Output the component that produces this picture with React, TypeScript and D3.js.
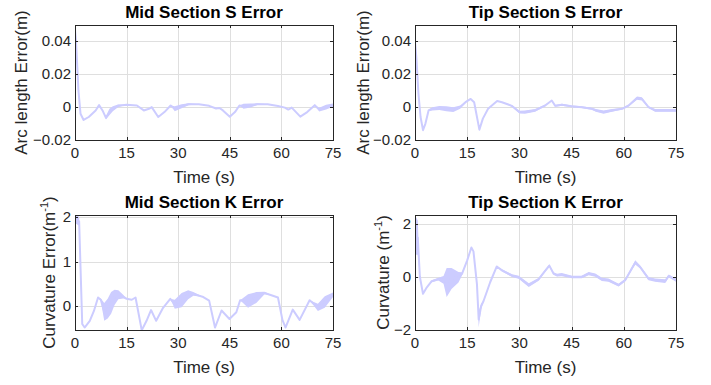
import * as d3 from 'd3';

// ---- data (time in s, value, half-width of noisy band) ----
const timeTicks = [0, 15, 30, 45, 60, 75];

const midS_t = [0, 0.3, 1, 1.6, 2.5, 4, 5, 6, 7, 8, 9, 10, 11, 12.5, 15, 18, 20, 21.5, 22.3, 24.2, 26, 27.8, 29, 31, 33, 36, 39, 41, 42, 43, 45, 46.5, 47.8, 49, 51, 53, 56, 59, 61, 62, 63, 65.5, 67.5, 69.7, 71, 73, 75];
const midS_v = [0.047, 0.04, 0.01, -0.004, -0.0078, -0.006, -0.004, -0.002, 0.0012, -0.002, -0.0065, -0.003, -0.001, 0.0008, 0.0015, 0.001, -0.002, -0.001, 0, -0.006, -0.003, 0.001, -0.001, 0.0005, 0.0018, 0.0018, 0.0008, -0.0008, -0.0005, -0.002, -0.0058, -0.003, 0.001, 0.0005, 0.001, 0.0018, 0.0018, 0.0007, -0.0003, -0.0015, -0.0003, -0.0058, -0.003, 0.0012, -0.0015, 0, 0.0012];
const midS_w = [0, 0, 0, 0, 0, 0, 0, 0, 0, 0, 0.001, 0.002, 0.0015, 0.0008, 0, 0, 0, 0, 0, 0, 0, 0, 0.0015, 0.0012, 0.0006, 0, 0, 0, 0, 0, 0, 0, 0, 0.0015, 0.0012, 0.0005, 0, 0, 0, 0, 0, 0, 0, 0, 0.0012, 0.0015, 0.001];

const tipS_t = [0, 0.4, 1, 1.6, 2.3, 3, 3.9, 5, 7, 9, 11, 13, 14.5, 16, 17, 18.5, 19.5, 21, 23.6, 25, 27.8, 30, 31.6, 34.5, 37.4, 39.3, 40.3, 42.2, 45, 47.9, 50.8, 52, 54.2, 56.6, 59.5, 61.4, 63.8, 65.2, 67.1, 69, 71.9, 75];
const tipS_v = [0.04, 0.03, 0.008, -0.006, -0.014, -0.01, -0.002, -0.001, -0.0005, -0.001, -0.0015, 0, 0.003, 0.005, 0.003, -0.0137, -0.007, -0.001, 0.0037, 0.003, 0.0008, -0.003, -0.003, -0.002, 0.001, 0.004, 0.0008, 0.0015, 0.0005, 0, -0.001, -0.002, -0.003, -0.002, -0.001, 0.001, 0.0055, 0.005, 0, -0.002, -0.002, -0.002];
const tipS_w = [0, 0, 0, 0, 0, 0, 0.0005, 0.001, 0.0012, 0.0015, 0.0015, 0.001, 0.0005, 0, 0, 0, 0, 0, 0, 0, 0.0005, 0.0008, 0.001, 0.0008, 0.0005, 0, 0.0005, 0.0006, 0.0005, 0.0005, 0.0006, 0.0008, 0.001, 0.0008, 0.0005, 0.0005, 0.001, 0.001, 0.0005, 0.0008, 0.0008, 0.0008];

const midK_t = [0, 1.2, 2.1, 2.8, 4.3, 5.5, 6.7, 7.5, 8.5, 9.5, 10.5, 11.5, 12.6, 14, 15, 16.5, 17.6, 19.4, 20.8, 22.1, 23.6, 25.6, 27.7, 29, 31, 32.9, 34.4, 37.3, 39, 40.7, 42.6, 44.9, 46.9, 48, 50.3, 52.7, 55.1, 57.1, 59, 60.3, 61.2, 63.3, 65.3, 68.2, 70.6, 72.6, 75];
const midK_v = [1.95, 1.9, -0.39, -0.47, -0.32, -0.1, 0.2, 0.15, -0.12, -0.05, 0.08, 0.2, 0.26, 0.22, 0.17, 0.15, 0.2, -0.53, -0.32, -0.08, -0.32, -0.03, 0.17, 0.05, 0.14, 0.26, 0.28, 0.21, 0.13, -0.47, -0.09, -0.28, -0.13, 0.14, 0.12, 0.2, 0.3, 0.25, 0.2, -0.3, -0.47, -0.07, -0.3, 0.14, -0.02, 0.1, 0.26];
const midK_w = [0.09, 0.1, 0, 0, 0, 0, 0, 0.03, 0.2, 0.22, 0.24, 0.17, 0.1, 0.04, 0, 0, 0, 0, 0, 0, 0, 0, 0, 0.1, 0.16, 0.1, 0.04, 0, 0, 0, 0, 0, 0, 0, 0.15, 0.12, 0.03, 0, 0, 0, 0, 0, 0, 0, 0.08, 0.13, 0.05];

const tipK_t = [0, 0.8, 1.4, 2.3, 3.4, 4.8, 6.7, 8.2, 9.1, 10.5, 12.5, 13.5, 15, 16.2, 16.8, 17.8, 18.3, 19, 19.7, 21.6, 23.5, 25, 27.9, 29.8, 32.7, 35.5, 37.5, 38.6, 39.8, 40.8, 42.2, 45.1, 47.9, 49.9, 51.8, 53.7, 55.6, 58.5, 60.4, 62.3, 63.3, 64.7, 67.1, 69, 71.9, 72.9, 75];
const tipK_v = [1.6, 1.5, 0.02, -0.63, -0.38, -0.15, -0.07, -0.1, -0.2, -0.05, 0, 0.13, 0.64, 1.13, 0.98, -0.26, -1.6, -1.1, -0.9, -0.19, 0.41, 0.26, 0.06, 0, -0.3, -0.08, 0.26, 0.44, 0.14, 0.08, 0.1, 0.01, 0.01, 0.14, 0.08, -0.08, -0.11, -0.3, -0.11, 0.33, 0.56, 0.39, -0.05, -0.11, -0.15, 0.05, -0.11];
const tipK_w = [0.75, 0.65, 0, 0, 0, 0.04, 0.05, 0.15, 0.55, 0.4, 0.2, 0.06, 0.02, 0, 0, 0, 0.3, 0.1, 0, 0, 0, 0.04, 0.05, 0.06, 0.07, 0.05, 0.04, 0.04, 0.05, 0.05, 0.06, 0.05, 0.05, 0.06, 0.06, 0.06, 0.06, 0.05, 0.04, 0.06, 0.08, 0.06, 0.06, 0.06, 0.07, 0.05, 0.06];

const sTicks = [-0.02, 0, 0.02, 0.04];
const midKTicks = [0, 1, 2];
const tipKTicks = [-2, 0, 2];

const FONT = '"Liberation Sans", Arial, Helvetica, sans-serif';
const INK = '#262626';
const GRID = '#dfdfdf';
const LINE = '#ccccff';

const fmt = (v: number) => {
  const s = String(Math.round(v * 1000) / 1000);
  return s.replace('-', '\u2212');
};

interface PanelProps {
  id: string;
  left: number;
  right: number;
  top: number;
  bottom: number;
  title: string;
  ylabel: React.ReactNode;
  ylabelX: number;
  yDomain: [number, number];
  yTicks: number[];
  t: number[];
  v: number[];
  w: number[];
}

function Panel({ id, left, right, top, bottom, title, ylabel, ylabelX, yDomain, yTicks, t, v, w }: PanelProps) {
  const x = d3.scaleLinear().domain([0, 75]).range([left, right]);
  const y = d3.scaleLinear().domain(yDomain).range([bottom, top]);
  const pts = t.map((tt, i) => ({ t: tt, v: v[i], w: w[i] }));

  const area = d3.area<{ t: number; v: number; w: number }>()
    .x(d => x(d.t))
    .y0(d => y(d.v - d.w))
    .y1(d => y(d.v + d.w));
  const line = d3.line<{ t: number; v: number; w: number }>()
    .x(d => x(d.t))
    .y(d => y(d.v));

  const tick = 3;
  const cx = (left + right) / 2;
  const cy = (top + bottom) / 2;

  return (
    <g>
      <defs>
        <clipPath id={id}>
          <rect x={left} y={top} width={right - left} height={bottom - top} />
        </clipPath>
      </defs>
      <rect x={left} y={top} width={right - left} height={bottom - top} fill="#fff" />
      {/* grid */}
      {timeTicks.map(tt => (
        <line key={'gx' + tt} x1={Math.round(x(tt)) + 0.5} x2={Math.round(x(tt)) + 0.5} y1={top} y2={bottom} stroke={GRID} />
      ))}
      {yTicks.map(tt => (
        <line key={'gy' + tt} x1={left} x2={right} y1={Math.round(y(tt)) + 0.5} y2={Math.round(y(tt)) + 0.5} stroke={GRID} />
      ))}
      {/* data */}
      <g clipPath={`url(#${id})`}>
        <path d={area(pts) ?? ''} fill={LINE} stroke="none" />
        <path d={line(pts) ?? ''} fill="none" stroke={LINE} strokeWidth={2} strokeLinejoin="round" />
      </g>
      {/* box + ticks */}
      <rect x={left + 0.5} y={top + 0.5} width={right - left} height={bottom - top} fill="none" stroke={INK} strokeWidth={1} />
      {timeTicks.map(tt => {
        const px = Math.round(x(tt)) + 0.5;
        return (
          <g key={'tx' + tt}>
            <line x1={px} x2={px} y1={bottom} y2={bottom - tick} stroke={INK} />
            <line x1={px} x2={px} y1={top} y2={top + tick} stroke={INK} />
            <text x={x(tt)} y={bottom + 18} textAnchor="middle" fontSize={15} fill={INK}>{tt}</text>
          </g>
        );
      })}
      {yTicks.map(tt => {
        const py = Math.round(y(tt)) + 0.5;
        return (
          <g key={'ty' + tt}>
            <line x1={left} x2={left + tick} y1={py} y2={py} stroke={INK} />
            <line x1={right} x2={right - tick} y1={py} y2={py} stroke={INK} />
            <text x={left - 4} y={y(tt) + 5} textAnchor="end" fontSize={15} fill={INK}>{fmt(tt)}</text>
          </g>
        );
      })}
      <text x={cx} y={top - 7} textAnchor="middle" fontSize={17} fontWeight="bold" fill="#000">{title}</text>
      <text x={cx} y={bottom + 43} textAnchor="middle" fontSize={17} fill={INK}>Time (s)</text>
      <text transform={`translate(${ylabelX},${cy}) rotate(-90)`} textAnchor="middle" fontSize={17} fill={INK}>{ylabel}</text>
    </g>
  );
}

export default function App() {
  const sup = (
    <tspan fontSize={11} dy={-7}>-1</tspan>
  );
  return (
    <svg width={711} height={385} style={{ position: 'absolute', left: 0, top: 0, fontFamily: FONT }}>
      <rect width={711} height={385} fill="#fff" />
      <Panel id="c1" left={75} right={333} top={25} bottom={140}
        title="Mid Section S Error" ylabel="Arc length Error(m)" ylabelX={27}
        yDomain={[-0.02, 0.05]} yTicks={sTicks} t={midS_t} v={midS_v} w={midS_w} />
      <Panel id="c2" left={415} right={676} top={25} bottom={140}
        title="Tip Section S Error" ylabel="Arc length Error(m)" ylabelX={369}
        yDomain={[-0.02, 0.05]} yTicks={sTicks} t={tipS_t} v={tipS_v} w={tipS_w} />
      <Panel id="c3" left={75} right={333} top={215} bottom={330}
        title="Mid Section K Error"
        ylabel={<>Curvature Error(m{sup}<tspan dy={7}>)</tspan></>} ylabelX={55}
        yDomain={[-0.525, 2.04]} yTicks={midKTicks} t={midK_t} v={midK_v} w={midK_w} />
      <Panel id="c4" left={415} right={676} top={215} bottom={330}
        title="Tip Section K Error"
        ylabel={<>Curvature (m{sup}<tspan dy={7}>)</tspan></>} ylabelX={389}
        yDomain={[-2, 2.36]} yTicks={tipKTicks} t={tipK_t} v={tipK_v} w={tipK_w} />
    </svg>
  );
}
